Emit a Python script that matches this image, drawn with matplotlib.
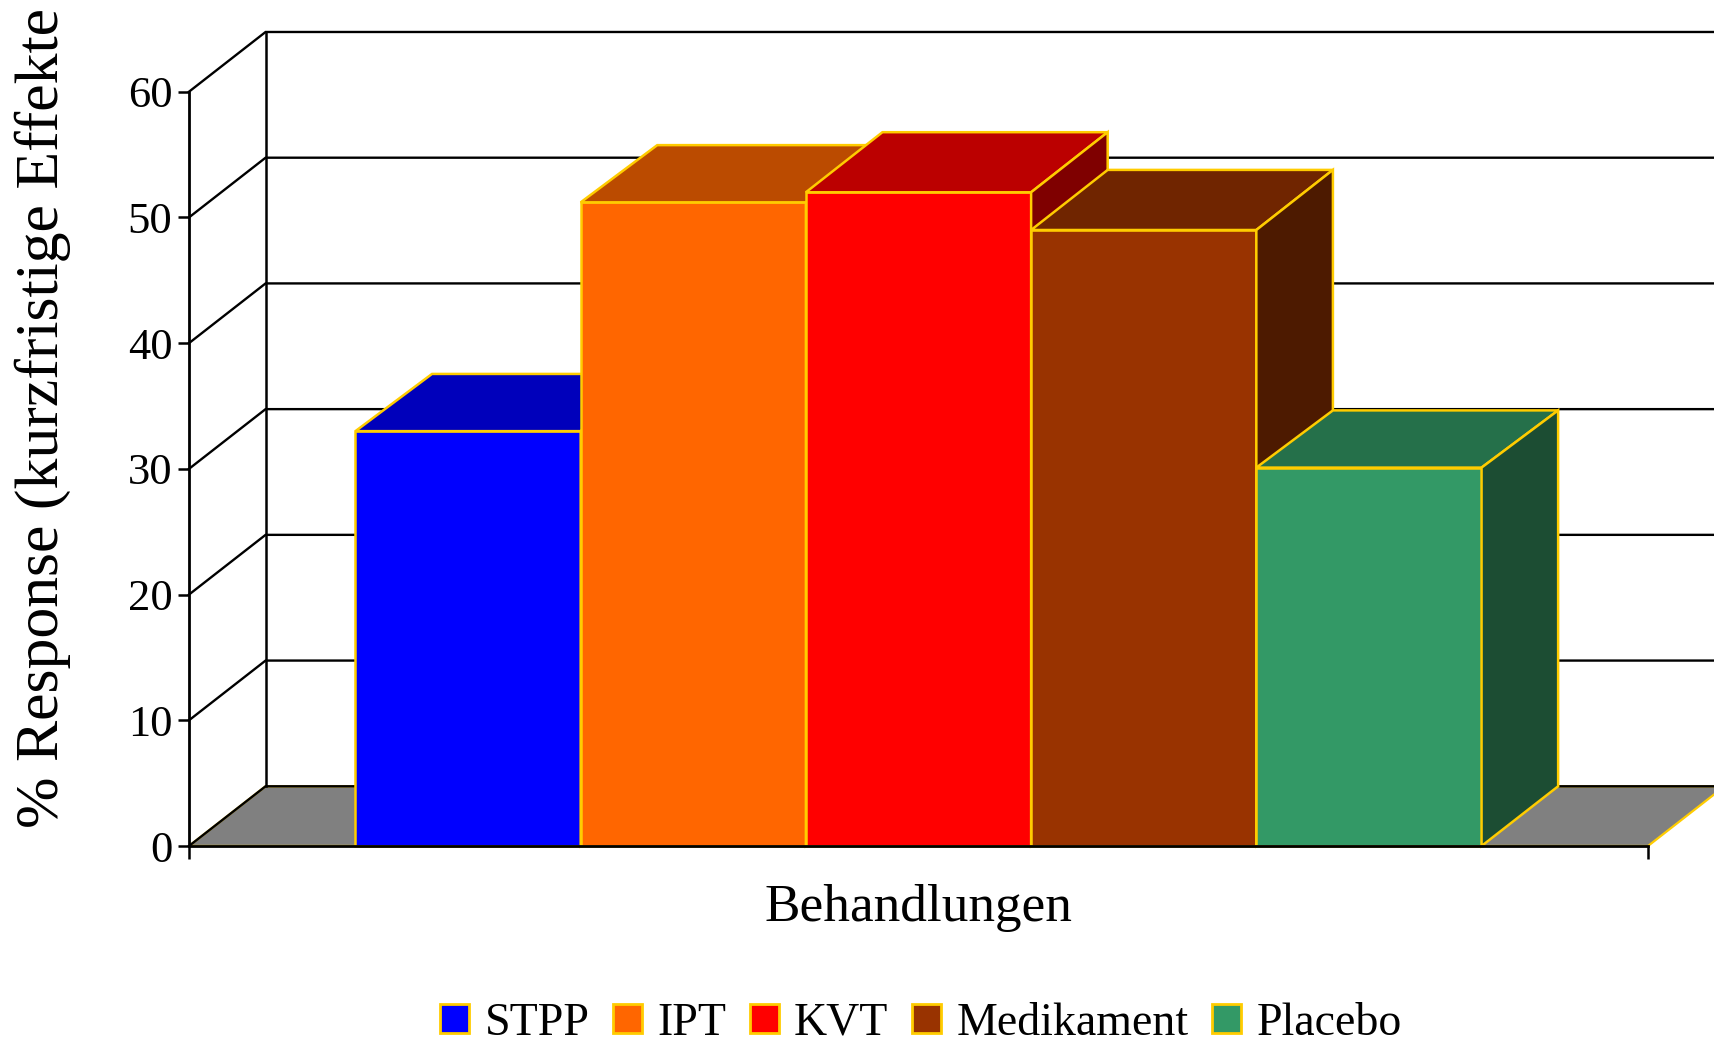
import matplotlib
matplotlib.use('Agg')
import matplotlib.pyplot as plt
from matplotlib.patches import Patch, Polygon

plt.rcParams['font.family'] = ['Liberation Serif', 'DejaVu Serif']

categories = ['STPP', 'IPT', 'KVT', 'Medikament', 'Placebo']
values = [33, 51.2, 52, 49, 30.1]
front_colors = ['#0000FF', '#FF6600', '#FF0000', '#993300', '#339966']
top_colors = ['#0000BB', '#BB4B00', '#BB0000', '#702500', '#25704A']
side_colors = ['#00007F', '#7F3300', '#7F0000', '#4D1A00', '#1C4D33']
y_ticks = [0, 10, 20, 30, 40, 50, 60]

W, H = 1715, 1046
EDGE = '#FFCC00'
DX, DY = 0.34, 4.75  # depth of the 3d effect, in data units
BAR_DY = [4.55, 4.55, 4.78, 4.78, 4.55]  # the bar tops are not all equally deep
XMIN, XMAX = -0.739, 5.739


def box(ax, i, val, dy, front, top, side):
    l, r = i, i + 1
    polys = [
        ([(l, 0), (r, 0), (r, val), (l, val)], front),
        ([(l, val), (r, val), (r + DX, val + dy), (l + DX, val + dy)], top),
        ([(r, 0), (r + DX, DY), (r + DX, val + dy), (r, val)], side),
    ]
    for pts, col in polys:
        ax.add_patch(Polygon(pts, closed=True, facecolor=col, edgecolor=EDGE, linewidth=1.8,
                             joinstyle='miter', clip_on=False, zorder=4))


fig = plt.figure(figsize=(W / 100, H / 100), dpi=100)
ax = fig.add_axes([189 / W, 1 - 846 / H, (1648 - 189) / W, (846 - 91.7) / H])
ax.set_xlim(XMIN, XMAX)
ax.set_ylim(0, 60)

# floor
ax.add_patch(Polygon([(XMIN, 0), (XMAX, 0), (XMAX + DX, DY), (XMIN + DX, DY)], closed=True,
                     facecolor='#808080', edgecolor=EDGE, linewidth=1.6, clip_on=False, zorder=1))

# back wall and grid
for t in y_ticks:
    ax.plot([XMIN, XMIN + DX, XMAX + DX], [t, t + DY, t + DY], color='black', lw=1.7,
            clip_on=False, zorder=2, solid_joinstyle='miter')
ax.plot([XMIN + DX, XMIN + DX], [DY, 60 + DY], color='black', lw=1.8, clip_on=False, zorder=2)

for i in range(len(values)):
    box(ax, i, values[i], BAR_DY[i], front_colors[i], top_colors[i], side_colors[i])

for s in ['top', 'right']:
    ax.spines[s].set_visible(False)
for s in ['left', 'bottom']:
    ax.spines[s].set_linewidth(2.0)
    ax.spines[s].set_zorder(5)

ax.set_yticks(y_ticks)
ax.set_xticks([XMIN, XMAX])
ax.set_xticklabels([])
ax.tick_params(axis='y', length=8, width=1.8, pad=4, labelsize=32)
ax.tick_params(axis='x', length=9, width=1.8)
ax.patch.set_alpha(0)

ax.set_xlabel('Behandlungen', fontsize=38.3, labelpad=15)
fig.text(15 / W, 1 - 828 / H, '% Response (kurzfristige Effekte', rotation=90, fontsize=44.5,
         ha='left', va='bottom')

handles = [Patch(facecolor=c, edgecolor=EDGE, linewidth=2.0) for c in front_colors]
fig.legend(handles, categories, ncols=5, loc='lower center', bbox_to_anchor=(921 / W, -0.003),
           frameon=False, fontsize=33, handlelength=0.62, handleheight=0.62,
           handletextpad=0.34, columnspacing=0.52, borderpad=0.1, borderaxespad=0.0)

fig.savefig('out.png', dpi=100)
